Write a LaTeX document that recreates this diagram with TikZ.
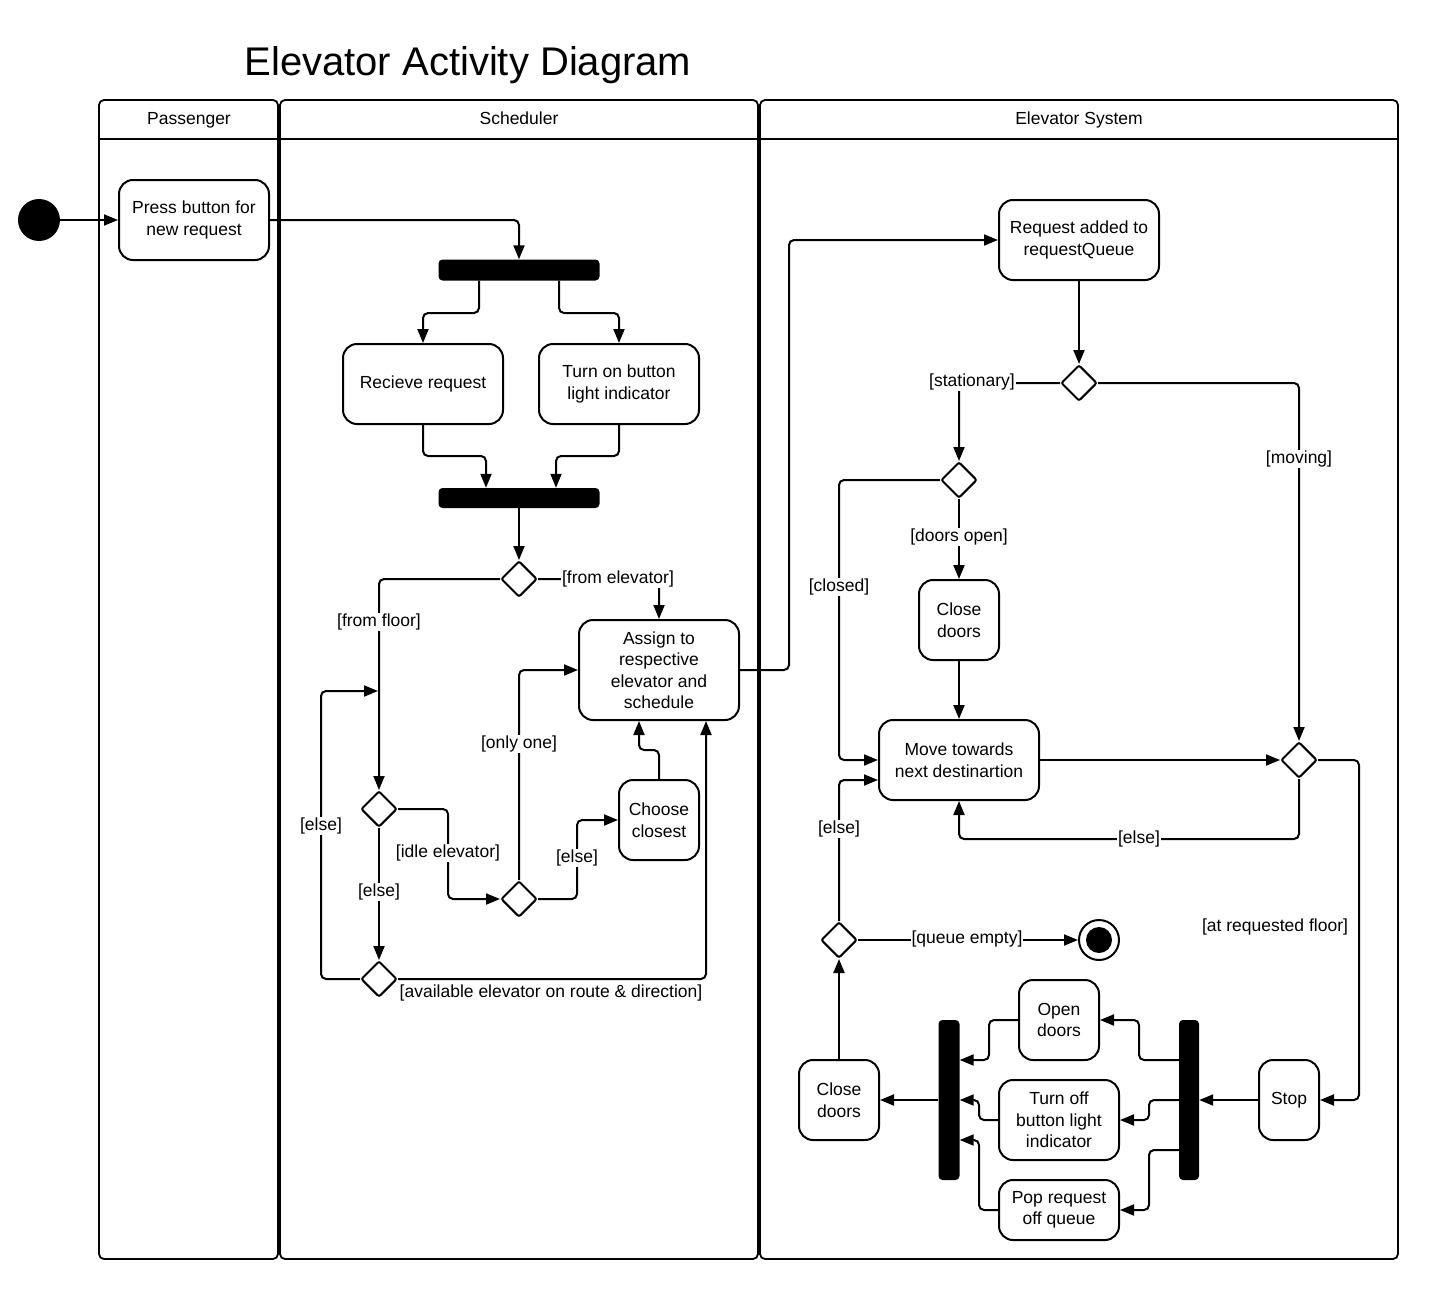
\documentclass[tikz,border=0pt]{standalone}
\usepackage{fontspec}
\setmainfont{Liberation Sans}
\usetikzlibrary{arrows.meta,shapes.geometric}
\begin{document}
\begin{tikzpicture}[x=1pt,y=-1pt,
  every node/.style={font=\fontsize{17.5}{21.5}\selectfont},
  act/.style={draw, line width=2pt, rounded corners=14pt, align=center, inner sep=2pt, fill=white},
  dec/.style={diamond, draw, line width=2pt, minimum width=36pt, minimum height=36pt, inner sep=0pt, rounded corners=2pt, fill=white},
  bar/.style={fill=black, rounded corners=4pt, inner sep=0pt},
  lbl/.style={fill=white, inner sep=1pt},
  flow/.style={line width=2pt, -{Triangle[length=14pt,width=11pt]}, rounded corners=5pt},
  lane/.style={line width=1.8pt, rounded corners=5pt}]
\useasboundingbox (0,0) rectangle (1446,1306);
\fill[white] (0,0) rectangle (1446,1306);

% title
\node[anchor=base west, font=\fontsize{40}{48}\selectfont] (title) at (241,76) {Elevator Activity Diagram};

% lanes
\draw[lane] (99,100) rectangle (278,1259);
\draw[line width=1.8pt] (99,139) -- (278,139);
\draw[lane] (280,100) rectangle (758,1259);
\draw[line width=1.8pt] (280,139) -- (758,139);
\draw[lane] (760,100) rectangle (1398,1259);
\draw[line width=1.8pt] (760,139) -- (1398,139);
\node[anchor=base] (hpass) at (189,124) {Passenger};
\node[anchor=base] (hsched) at (519,124) {Scheduler};
\node[anchor=base] (helev) at (1079,124) {Elevator System};

% nodes
\node[circle, fill=black, minimum size=42pt, inner sep=0pt] (start) at (39,220) {};
\node[act, minimum width=150pt, minimum height=80pt] (press) at (194,220) {Press button for\\new request};
\node[bar, minimum width=161pt, minimum height=21pt] (fork1) at (519,270) {};
\node[act, minimum width=160pt, minimum height=80pt] (recv) at (423,384) {Recieve request};
\node[act, minimum width=160pt, minimum height=80pt] (turn) at (619,384) {Turn on button\\light indicator};
\node[bar, minimum width=161pt, minimum height=20pt] (fork2) at (519,498) {};
\node[dec] (d1) at (519,579) {};
\node[act, minimum width=160pt, minimum height=100pt] (assign) at (659,670) {Assign to\\respective\\elevator and\\schedule};
\node[dec] (d2) at (379,809) {};
\node[dec] (d3) at (519,899) {};
\node[act, minimum width=80pt, minimum height=80pt] (choose) at (659,820) {Choose\\closest};
\node[dec] (d4) at (379,979) {};
\coordinate (loopin) at (378,691);

\node[act, minimum width=160pt, minimum height=80pt] (req) at (1079,240) {Request added to\\requestQueue};
\node[dec] (d5) at (1079,383) {};
\node[dec] (d6) at (959,480) {};
\node[act, minimum width=80pt, minimum height=80pt] (close1) at (959,620) {Close\\doors};
\node[act, minimum width=160pt, minimum height=80pt] (move) at (959,760) {Move towards\\next destinartion};
\node[dec] (d7) at (1299,760) {};
\node[act, minimum width=60pt, minimum height=80pt] (stop) at (1289,1100) {Stop};
\node[bar, minimum width=20pt, minimum height=160pt] (fork3) at (1189,1100) {};
\node[act, minimum width=80pt, minimum height=80pt] (open) at (1059,1020) {Open\\doors};
\node[act, minimum width=120pt, minimum height=80pt] (turnoff) at (1059,1120) {Turn off\\button light\\indicator};
\node[act, minimum width=120pt, minimum height=60pt] (pop) at (1059,1210) {Pop request\\off queue};
\node[bar, minimum width=21pt, minimum height=160pt] (fork4) at (949,1100) {};
\node[act, minimum width=80pt, minimum height=80pt] (close2) at (839,1100) {Close\\doors};
\node[dec] (d8) at (839,940) {};
\node[circle, draw, line width=2pt, minimum size=40pt, inner sep=0pt] (endn) at (1099,940) {};
\fill[black] (endn.center) circle (13pt);

% connectors
\draw[flow] (start.east) -- (press.west);
\draw[flow] (press.east) -| (fork1.north);
\draw[flow] ([xshift=-40pt]fork1.south) -- (479,313) -- (423,313) -- (recv.north);
\draw[flow] ([xshift=40pt]fork1.south) -- (559,313) -- (619,313) -- (turn.north);
\draw[flow] (recv.south) -- (423,456) -- (486,456) -- ([xshift=-33pt]fork2.north);
\draw[flow] (turn.south) -- (619,456) -- (556,456) -- ([xshift=37pt]fork2.north);
\draw[flow] (fork2.south) -- (d1.north);
\draw[flow] (d1.east) -- (659,579) -- (assign.north);
\draw[flow] (d1.west) -| (d2.north);
\draw[flow] (d2.east) -- (448,809) -- (448,899) -- (d3.west);
\draw[flow] (d3.north) |- (assign.west);
\draw[flow] (d3.east) -- (577,899) -- (577,820) -- (choose.west);
\draw[flow] (choose.north) -- (659,750) -- (639,750) -- ([xshift=-20pt]assign.south);
\draw[flow] (d2.south) -- (d4.north);
\draw[flow] (d4.east) -| ([xshift=47pt]assign.south);
\draw[flow] (d4.west) -- (321,979) -- (321,691) -- (loopin);
\draw[flow] (assign.east) -- (789,670) -- (789,240) -- (req.west);
\draw[flow] (req.south) -- (d5.north);
\draw[flow] (d5.west) -- (959,383) -- (d6.north);
\draw[flow] (d5.east) -| (d7.north);
\draw[flow] (d6.south) -- (close1.north);
\draw[flow] (d6.west) -- (839,480) -- (839,760) -- (move.west);
\draw[flow] (close1.south) -- (move.north);
\draw[flow] (move.east) -- (d7.west);
\draw[flow] (d7.south) -- (1299,839) -- (959,839) -- (move.south);
\draw[flow] (d7.east) -- (1359,760) -- (1359,1100) -- (stop.east);
\draw[flow] (stop.west) -- (fork3.east);
\draw[flow] ([yshift=40pt]fork3.west) -- (1139,1060) -- (1139,1020) -- (open.east);
\draw[flow] (fork3.west) -- (1149,1100) -- (1149,1120) -- (turnoff.east);
\draw[flow] ([yshift=-50pt]fork3.west) -- (1149,1150) -- (1149,1210) -- (pop.east);
\draw[flow] (open.west) -- (989,1020) -- (989,1060) -- ([yshift=40pt]fork4.east);
\draw[flow] (turnoff.west) -- (979,1120) -- (979,1100) -- (fork4.east);
\draw[flow] (pop.west) -- (979,1210) -- (979,1140) -- ([yshift=-40pt]fork4.east);
\draw[flow] (fork4.west) -- (close2.east);
\draw[flow] (close2.north) -- (d8.south);
\draw[flow] (d8.east) -- (endn.west);
\draw[flow] (d8.north) -- (839,780) -- ([yshift=-20pt]move.west);

% guard labels
\node[lbl] (lfromelev) at (618,579) {[from elevator]};
\node[lbl] (lfromfloor) at (379,622) {[from floor]};
\node[lbl] (lidle) at (448,853) {[idle elevator]};
\node[lbl] (lonly) at (519,744) {[only one]};
\node[lbl] (lelse1) at (577,858) {[else]};
\node[lbl] (lelse2) at (379,892) {[else]};
\node[lbl] (lelse3) at (321,826) {[else]};
\node[lbl] (lavail) at (551,993) {[available elevator on route \& direction]};
\node[lbl] (lstat) at (972,382) {[stationary]};
\node[lbl] (lmoving) at (1299,459) {[moving]};
\node[lbl] (ldoors) at (959,537) {[doors open]};
\node[lbl] (lclosed) at (839,587) {[closed]};
\node[lbl] (lelse4) at (1139,839) {[else]};
\node[lbl] (lelse5) at (839,829) {[else]};
\node[lbl] (lqueue) at (967,939) {[queue empty]};
\node[lbl] (lat) at (1275,927) {[at requested floor]};
\end{tikzpicture}
\end{document}
